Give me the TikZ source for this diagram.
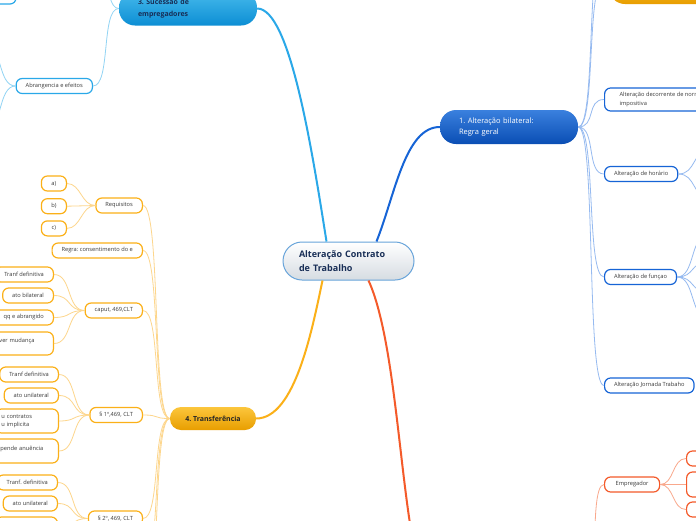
\documentclass[tikz,border=0pt]{standalone}
\usepackage{fontspec}
\setmainfont{Open Sans}
\usetikzlibrary{positioning}
\definecolor{mapNavy}{RGB}{24,46,86}
\definecolor{hubEdge}{RGB}{104,164,218}
\definecolor{hubGray}{RGB}{214,220,226}
\definecolor{blueTop}{RGB}{58,128,222}
\definecolor{blueBot}{RGB}{10,78,180}
\definecolor{blueEdge}{RGB}{22,100,214}
\definecolor{blueTwig}{RGB}{150,186,240}
\definecolor{cyanTop}{RGB}{70,186,236}
\definecolor{cyanBot}{RGB}{12,142,212}
\definecolor{cyanEdge}{RGB}{42,168,232}
\definecolor{cyanTwig}{RGB}{146,212,244}
\definecolor{orangeTop}{RGB}{252,198,60}
\definecolor{orangeBot}{RGB}{232,158,0}
\definecolor{orangeEdge}{RGB}{251,176,24}
\definecolor{orangeTwig}{RGB}{253,214,140}
\definecolor{redEdge}{RGB}{244,90,42}
\definecolor{redTwig}{RGB}{249,168,140}
\definecolor{leafText}{RGB}{58,58,58}
\frenchspacing

\begin{document}
\begin{tikzpicture}[
    x=1pt, y=-1pt,
    % Styles
    hub/.style={
        draw=hubEdge,
        line width=1pt,
        rounded corners=19pt,
        top color=white,
        bottom color=hubGray,
        minimum width=131pt,
        minimum height=38pt,
        text width=99pt,
        inner xsep=16pt,
        align=left,
        font=\fontsize{9}{14}\selectfont\bfseries,
        text=mapNavy
    },
    topic/.style={
        rounded corners=16pt,
        minimum width=138pt,
        minimum height=34pt,
        text width=100pt,
        inner xsep=19pt,
        align=left,
        font=\fontsize{7.5}{11}\selectfont
    },
    leaf/.style={
        draw=#1,
        fill=white,
        line width=1.2pt,
        rounded corners=6pt,
        minimum height=15pt,
        inner xsep=9.5pt,
        inner ysep=2pt,
        font=\fontsize{5.7}{8}\selectfont,
        text=leafText
    },
    trunk/.style={draw=#1, line width=2pt},
    twig/.style={draw=#1, line width=0.8pt},
    toL/.style={to path={.. controls +(-#1,0) and +(#1,0) .. (\tikztotarget)}},
    toR/.style={to path={.. controls +(#1,0) and +(-#1,0) .. (\tikztotarget)}},
    toL/.default=18, toR/.default=18
]
    \useasboundingbox (0,0) rectangle (696,520);
    \clip (0,0) rectangle (696,520);
    \fill[white] (0,0) rectangle (696,520);

    % ---------------------------------------------------------
    % CENTRE AND MAIN TOPICS
    % ---------------------------------------------------------
    \node[hub] (hub) at (348.5,261) {Alteração Contrato\\de Trabalho};

    \node[topic, top color=blueTop, bottom color=blueBot, text=white] (n1) at (509,127)
        {1. Alteração bilateral:\\Regra geral};
    \node[topic, top color=cyanTop, bottom color=cyanBot, text=mapNavy,
          font=\fontsize{7}{11.5}\selectfont\bfseries] (n3) at (188,8.5)
        {3. Sucessão de\\empregadores};
    \node[topic, top color=orangeTop, bottom color=orangeBot, text=black!85,
          rounded corners=11pt, minimum width=86pt, minimum height=23pt,
          text width=, inner xsep=6pt, align=center,
          font=\fontsize{7}{9}\selectfont\bfseries] (n4) at (213,418.5)
        {4. Transferência};
    \node[topic, top color=orangeTop, bottom color=orangeBot] (n2) at (678,-13) {};

    % off-screen ends
    \coordinate (redL) at (440,600);
    \coordinate (redR) at (585,640);

    % ---------------------------------------------------------
    % 1. ALTERACAO BILATERAL
    % ---------------------------------------------------------
    \node[leaf=blueEdge, anchor=west, align=left, inner xsep=15pt, minimum height=23pt,
          font=\fontsize{5.7}{9}\selectfont] (norma) at (604,99.5)
        {Alteração decorrente de norma\\impositiva};
    \node[leaf=blueEdge, anchor=west] (horario) at (604,174) {Alteração de horário};
    \node[leaf=blueEdge, anchor=west] (funcao) at (604,277) {Alteração de funçao};
    \node[leaf=blueEdge, anchor=west] (jornada) at (604,385.5) {Alteração Jornada Trabaho};

    \coordinate (up1) at (604,-20);
    \coordinate (up2) at (604,-55);
    \coordinate (hor1) at (710,150);
    \coordinate (hor2) at (710,198);
    \coordinate (fun1) at (708,235);
    \coordinate (fun2) at (708,262);
    \coordinate (fun3) at (708,292);
    \coordinate (fun4) at (708,318);

    % ---------------------------------------------------------
    % 3. SUCESSAO DE EMPREGADORES
    % ---------------------------------------------------------
    \node[leaf=cyanEdge, anchor=east] (abrang) at (93,86) {Abrangencia e efeitos};
    \node[leaf=cyanEdge, minimum width=96pt, minimum height=24pt] (corner) at (-32,-8) {};

    \coordinate (up3) at (93,-70);
    \coordinate (ab1) at (-15,45);
    \coordinate (ab2) at (-15,130);

    % ---------------------------------------------------------
    % 4. TRANSFERENCIA
    % ---------------------------------------------------------
    \node[leaf=orangeEdge, anchor=east] (req) at (143,205.5) {Requisitos};
    \node[leaf=orangeEdge, anchor=east, minimum width=25pt] (ra) at (67,183.5) {a)};
    \node[leaf=orangeEdge, minimum width=25pt, below=6.5pt of ra] (rb) {b)};
    \node[leaf=orangeEdge, minimum width=25pt, below=6pt of rb] (rc) {c)};

    \node[leaf=orangeEdge, anchor=east] (regra) at (143,250.5) {Regra: consentimento do e};

    \node[leaf=orangeEdge, anchor=east] (caput) at (143,310.5) {caput, 469,CLT};
    \node[leaf=orangeEdge, anchor=east] (tranfA) at (54,274.5) {Tranf definitiva};
    \node[leaf=orangeEdge, anchor=east] (bilat) at (54,295.5) {ato bilateral};
    \node[leaf=orangeEdge, anchor=east] (qq) at (54,317.5) {qq e abrangido};
    \node[leaf=orangeEdge, anchor=east, align=left, text width=48pt, inner xsep=6pt,
          minimum height=23pt, text height=5.5pt, text depth=8.5pt] (mud) at (54,343.5)
        {ver mudança};

    \node[leaf=orangeEdge, anchor=east] (par1) at (143,415) {§ 1º,469, CLT};
    \node[leaf=orangeEdge, anchor=east] (tranfB) at (59,374.5) {Tranf definitiva};
    \node[leaf=orangeEdge, anchor=east] (unilA) at (59,395.5) {ato unilateral};
    \node[leaf=orangeEdge, anchor=east, align=left, text width=51pt, inner xsep=6pt,
          minimum height=24pt] (contr) at (59,421)
        {u contratos\\u implicita};
    \node[leaf=orangeEdge, anchor=east, align=left, text width=52pt, inner xsep=6pt,
          minimum height=24pt, text height=6.5pt, text depth=8.5pt] (anuen) at (59,451)
        {pende anuência};

    \node[leaf=orangeEdge, anchor=east] (par2) at (143,518.5) {§ 2º, 469, CLT};
    \node[leaf=orangeEdge, anchor=east] (tranfC) at (58,482.5) {Tranf. definitiva};
    \node[leaf=orangeEdge, anchor=east] (unilB) at (58,503.5) {ato unilateral};
    \node[leaf=orangeEdge, anchor=east, minimum width=62pt, minimum height=22pt] (blank) at (58,528) {};

    \coordinate (down1) at (143,570);
    \coordinate (down2) at (143,625);

    % ---------------------------------------------------------
    % RED BRANCH (main topic below the page)
    % ---------------------------------------------------------
    \node[leaf=redEdge, anchor=west, minimum width=55pt] (emp) at (604,484.5) {Empregador};
    \node[leaf=redEdge, anchor=west, minimum width=60pt] (e1) at (686,458.5) {};
    \node[leaf=redEdge, anchor=west, minimum width=60pt, minimum height=25pt] (e2) at (686,484.5) {};
    \node[leaf=redEdge, anchor=west, minimum width=60pt] (e3) at (686,509.5) {};

    % ---------------------------------------------------------
    % CONNECTIONS
    % ---------------------------------------------------------
    % Trunks from the centre
    \draw[trunk=blueEdge] ([xshift=28pt]hub.north) .. controls (395,195) and (405,127) .. (n1.west);
    \draw[trunk=cyanEdge] ([xshift=-22pt]hub.north) .. controls (312,150) and (290,8.5) .. (n3.east);
    \draw[trunk=orangeEdge] ([xshift=-26pt]hub.south) .. controls (312,330) and (295,418.5) .. (n4.east);
    \draw[trunk=redEdge] ([xshift=20pt]hub.south) .. controls (405,360) and (400,600) .. (redL);

    % Branch 1
    \draw[twig=blueTwig] (n1.east) to[toR] (up1);
    \draw[twig=blueTwig] (n1.east) to[toR] (up2);
    \draw[twig=blueTwig] (n1.east) to[toR] (norma.west);
    \draw[twig=blueTwig] (n1.east) to[toR] (horario.west);
    \draw[twig=blueTwig] (n1.east) to[toR] (funcao.west);
    \draw[twig=blueTwig] (n1.east) to[toR] (jornada.west);
    \draw[twig=blueTwig] (horario.east) to[toR] (hor1);
    \draw[twig=blueTwig] (horario.east) to[toR] (hor2);
    \draw[twig=blueTwig] (funcao.east) to[toR] (fun1);
    \draw[twig=blueTwig] (funcao.east) to[toR] (fun2);
    \draw[twig=blueTwig] (funcao.east) to[toR] (fun3);
    \draw[twig=blueTwig] (funcao.east) to[toR] (fun4);

    % Branch 3
    \draw[twig=cyanTwig] (n3.west) to[toL] (up3);
    \draw[twig=cyanTwig] (n3.west) to[toL] (abrang.east);
    \draw[twig=cyanTwig] (abrang.west) to[toL] (ab1);
    \draw[twig=cyanTwig] (abrang.west) to[toL] (ab2);

    % Branch 4
    \draw[twig=orangeTwig] (n4.west) to[toL] (req.east);
    \draw[twig=orangeTwig] (n4.west) to[toL] (regra.east);
    \draw[twig=orangeTwig] (n4.west) to[toL] (caput.east);
    \draw[twig=orangeTwig] (n4.west) to[toL] (par1.east);
    \draw[twig=orangeTwig] (n4.west) to[toL] (par2.east);
    \draw[twig=orangeTwig] (n4.west) to[toL] (down1);
    \draw[twig=orangeTwig] (n4.west) to[toL] (down2);
    \draw[twig=orangeTwig] (req.west) to[toL=14] (ra.east);
    \draw[twig=orangeTwig] (req.west) to[toL=14] (rb.east);
    \draw[twig=orangeTwig] (req.west) to[toL=14] (rc.east);
    \draw[twig=orangeTwig] (caput.west) to[toL] (tranfA.east);
    \draw[twig=orangeTwig] (caput.west) to[toL] (bilat.east);
    \draw[twig=orangeTwig] (caput.west) to[toL] (qq.east);
    \draw[twig=orangeTwig] (caput.west) to[toL] (mud.east);
    \draw[twig=orangeTwig] (par1.west) to[toL] (tranfB.east);
    \draw[twig=orangeTwig] (par1.west) to[toL] (unilA.east);
    \draw[twig=orangeTwig] (par1.west) to[toL] (contr.east);
    \draw[twig=orangeTwig] (par1.west) to[toL] (anuen.east);
    \draw[twig=orangeTwig] (par2.west) to[toL] (tranfC.east);
    \draw[twig=orangeTwig] (par2.west) to[toL] (unilB.east);
    \draw[twig=orangeTwig] (par2.west) to[toL] (blank.east);

    % Red branch
    \draw[twig=redTwig] (redR) to[toR] (emp.west);
    \draw[twig=redTwig] (emp.east) to[toR=14] (e1.west);
    \draw[twig=redTwig] (emp.east) to[toR=14] (e2.west);
    \draw[twig=redTwig] (emp.east) to[toR=14] (e3.west);

\end{tikzpicture}
\end{document}
